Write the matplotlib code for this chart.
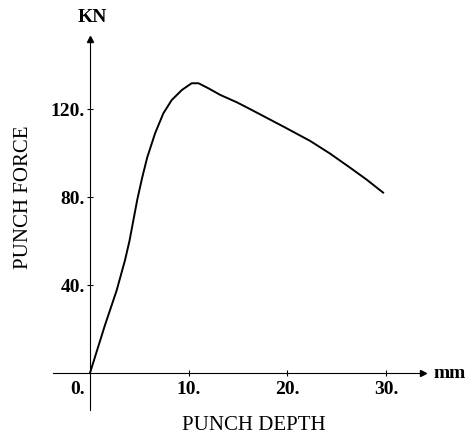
import matplotlib.pyplot as plt

# punch depth (mm) vs punch force (kN)
depth = [0, 1.5, 2.7, 3.55, 4.0, 4.4, 4.8, 5.3, 5.8, 6.6, 7.43, 8.27, 9.3,
         10.3, 11.0, 12.0, 13.2, 14.9, 16.2, 19.6, 22.3, 24.3, 26.3, 28.0,
         29.7]
force = [0, 21.5, 37.5, 51.3, 60, 69.5, 79, 89, 98, 109, 118, 124, 128.6,
         131.7, 131.7, 129.4, 126.4, 123, 120, 112, 105.5, 99.8, 93.5, 88,
         82]

x_ticks = [0, 10, 20, 30]
x_labels = ["0.", "10.", "20.", "30."]
y_ticks = [40, 80, 120]
y_labels = ["40.", "80.", "120."]

W, H = 467, 438
plt.rcParams['font.family'] = ['Liberation Serif', 'DejaVu Serif']

fig = plt.figure(figsize=(W / 100, H / 100), dpi=100)
# axes box placed so that origin lands at pixel (90, 373)
ax = fig.add_axes([50.5 / W, (H - 410.4) / H, 380 / W, 374 / H])
ax.set_xlim(-4, 34.5)
ax.set_ylim(-17, 153)

ax.plot(depth, force, color='black', lw=1.4)

# axes through the origin
for s in ['top', 'right']:
    ax.spines[s].set_visible(False)
ax.spines['left'].set_position(('data', 0))
ax.spines['bottom'].set_position(('data', 0))
ax.spines['left'].set_bounds(-17, 152)
ax.spines['bottom'].set_bounds(-3.7, 33.7)
ax.spines['left'].set_linewidth(0.8)
ax.spines['bottom'].set_linewidth(0.8)
ax.plot(33.7, 0, marker='>', color='black', ms=4, clip_on=False)
ax.plot(0, 152, marker='^', color='black', ms=4, clip_on=False)

ax.set_xticks(x_ticks[1:])
ax.set_xticklabels(x_labels[1:], fontsize=14, fontweight='bold')
ax.set_yticks(y_ticks)
ax.set_yticklabels(y_labels, fontsize=14, fontweight='bold')
ax.tick_params(axis='both', direction='inout', length=5, width=0.8, pad=3)
ax.tick_params(axis='y', pad=1)
ax.text(-0.5, -3.5, x_labels[0], ha='right', va='top', fontsize=14,
        fontweight='bold')

def px(x, y):
    return x / W, 1 - y / H

fig.text(*px(92, 18), "KN", ha='center', va='center', fontsize=14,
         fontweight='bold')
fig.text(*px(450, 373), "mm", ha='center', va='center', fontsize=14,
         fontweight='bold')
fig.text(*px(24, 197), "PUNCH FORCE", ha='center', va='center',
         rotation=90, fontsize=15)
fig.text(*px(254, 426), "PUNCH DEPTH", ha='center', va='center', fontsize=15)

fig.savefig('out.png', dpi=100)
